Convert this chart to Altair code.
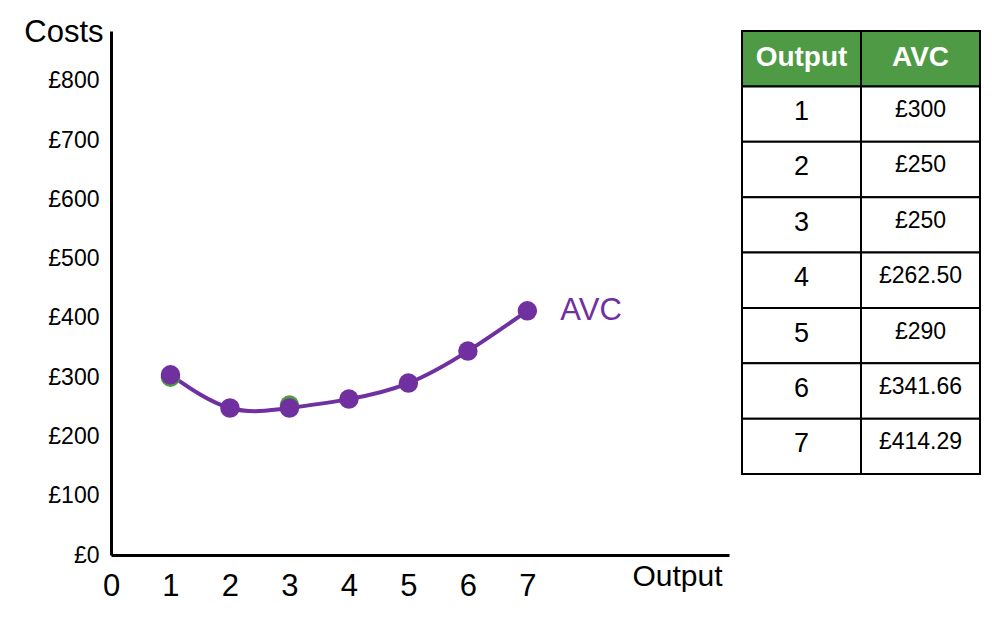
import altair as alt
import pandas as pd

# ---- data ----
outputs = [1, 2, 3, 4, 5, 6, 7]
avc_plotted = [304, 248, 248, 263, 290, 344, 412]
green_outputs = [1, 3]
green_values = [300, 253]
x_ticks = [0, 1, 2, 3, 4, 5, 6, 7]
y_ticks = [0, 100, 200, 300, 400, 500, 600, 700, 800]
table_header = ["Output", "AVC"]
table_output = ["1", "2", "3", "4", "5", "6", "7"]
table_avc = ["£300", "£250", "£250", "£262.50", "£290", "£341.66", "£414.29"]

PURPLE = "#7030a0"
GREEN = "#4f9a44"
FONT = "Liberation Sans"

curve_df = pd.DataFrame({"output": outputs, "avc": avc_plotted})
green_df = pd.DataFrame({"output": green_outputs, "avc": green_values})
label_df = pd.DataFrame({"output": [outputs[-1]], "avc": [avc_plotted[-1]], "label": ["AVC"]})

x_enc = alt.X(
    "output:Q",
    scale=alt.Scale(domain=[0, 10.39], nice=False, zero=True),
    axis=alt.Axis(
        values=x_ticks, format="d", title="Output", ticks=False, grid=False,
        domainColor="black", domainWidth=3, labelFontSize=31, labelColor="black",
        labelPadding=16, labelFlush=False, labelFont=FONT,
        titleFont=FONT, titleFontSize=30, titleFontWeight="normal", titleColor="black",
        titleAlign="right", titleBaseline="alphabetic", titleX=611, titleY=30,
    ),
)
y_enc = alt.Y(
    "avc:Q",
    scale=alt.Scale(domain=[0, 884], nice=False),
    axis=alt.Axis(
        values=y_ticks, labelExpr="'£' + datum.value", title="Costs", ticks=False, grid=False,
        domainColor="black", domainWidth=3, labelFontSize=23, labelColor="black",
        labelPadding=12, labelFont=FONT,
        titleFont=FONT, titleFontSize=31, titleFontWeight="normal", titleColor="black",
        titleAngle=0, titleAlign="right", titleBaseline="alphabetic", titleX=-8, titleY=10,
    ),
)

line = alt.Chart(curve_df).mark_line(color=PURPLE, strokeWidth=4, interpolate="natural").encode(x=x_enc, y=y_enc)
green_pts = alt.Chart(green_df).mark_circle(color=GREEN, size=380, opacity=1).encode(x="output:Q", y="avc:Q")
pts = alt.Chart(curve_df).mark_circle(color=PURPLE, size=380, opacity=1).encode(x="output:Q", y="avc:Q")
lbl = alt.Chart(label_df).mark_text(
    color=PURPLE, fontSize=31, font=FONT, align="left", baseline="middle", dx=33
).encode(x="output:Q", y="avc:Q", text="label:N")

left = alt.layer(line, green_pts, pts, lbl).properties(width=618, height=524)

# ---- table ----
rows = []
for c in table_header:
    rows.append({"row": 0, "col": c, "text": c, "kind": "header"})
for i, (o, a) in enumerate(zip(table_output, table_avc)):
    rows.append({"row": i + 1, "col": "Output", "text": o, "kind": "out"})
    rows.append({"row": i + 1, "col": "AVC", "text": a, "kind": "avc"})
tdf = pd.DataFrame(rows)

tx = alt.X("col:N", sort=table_header, scale=alt.Scale(paddingInner=0, paddingOuter=0), axis=None)
ty = alt.Y("row:O", scale=alt.Scale(paddingInner=0, paddingOuter=0), axis=None)

cells = alt.Chart(tdf).mark_rect(stroke="black", strokeWidth=2).encode(
    x=tx, y=ty,
    color=alt.Color("kind:N", scale=alt.Scale(domain=["header", "out", "avc"], range=[GREEN, "white", "white"]), legend=None),
)
head_txt = alt.Chart(tdf).transform_filter("datum.kind == 'header'").mark_text(
    color="white", fontSize=28, fontWeight="bold", font=FONT, baseline="middle", dy=-1
).encode(x=tx, y=ty, text="text:N")
out_txt = alt.Chart(tdf).transform_filter("datum.kind == 'out'").mark_text(
    color="black", fontSize=27, font=FONT, baseline="middle", dy=-2
).encode(x=tx, y=ty, text="text:N")
avc_txt = alt.Chart(tdf).transform_filter("datum.kind == 'avc'").mark_text(
    color="black", fontSize=23, font=FONT, baseline="middle", dy=-4
).encode(x=tx, y=ty, text="text:N")

table = alt.layer(cells, head_txt, out_txt, avc_txt).properties(width=238, height=443)

chart = alt.hconcat(left, table, spacing=13, bounds="flush").properties(
    padding={"left": 15, "top": 8, "right": 0, "bottom": 0}
).configure(font=FONT, background="white").configure_view(strokeWidth=0, stroke="transparent")

chart.save("out.html", embed_options={"renderer": "svg", "actions": False})
